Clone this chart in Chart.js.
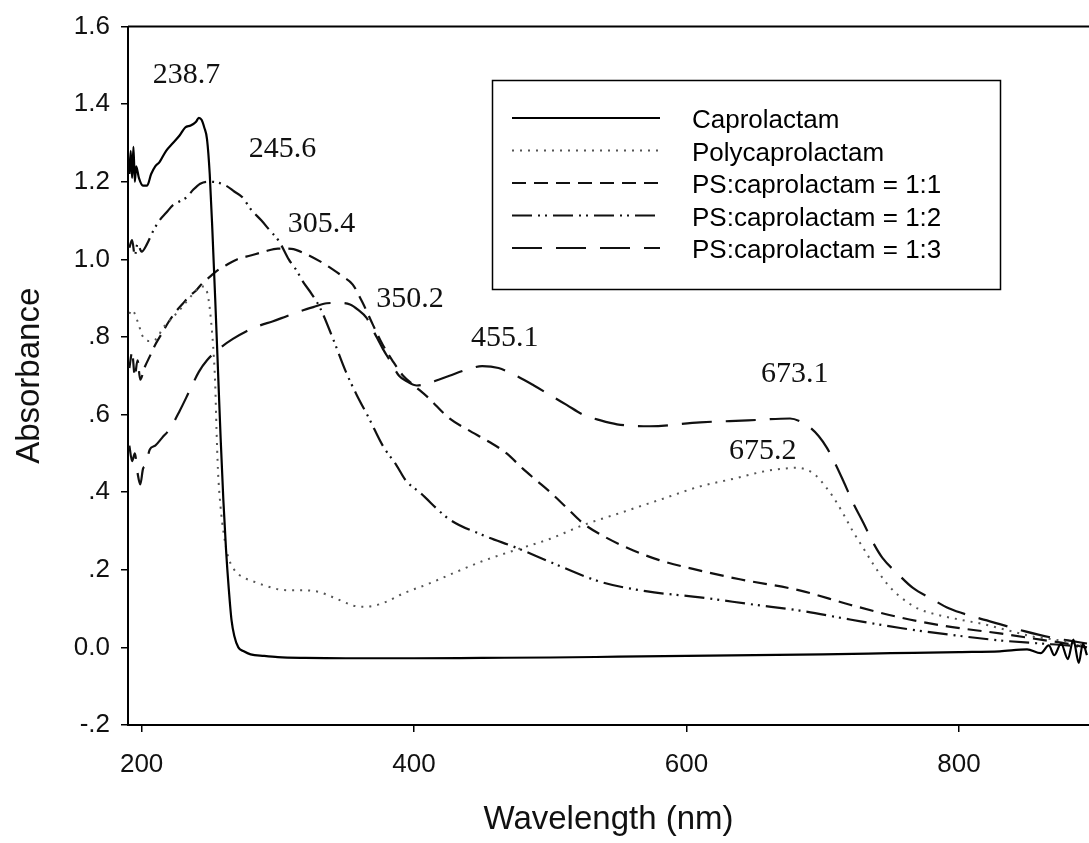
<!DOCTYPE html>
<html>
<head>
<meta charset="utf-8">
<script src="https://cdn.jsdelivr.net/npm/chart.js@4.4.1/dist/chart.umd.min.js"></script>
<style>
  html, body { margin: 0; padding: 0; background: #fff; }
</style>
</head>
<body>
<canvas id="myChart" width="1089" height="843"></canvas>
<script>
// Wavelength (nm) / absorbance
const capWl = [191, 192, 193, 194, 195, 196, 198, 201, 204, 207, 210, 213, 218, 223, 228, 232, 236, 240, 242, 244, 246, 248, 250, 252, 254, 256, 258, 260, 262, 264, 266, 268, 271, 275, 280, 290, 300, 320, 350, 400, 450, 500, 550, 600, 650, 700, 750, 800, 830, 850, 860, 866, 870, 875, 880, 884, 888, 891, 894];
const capAbs = [1.22, 1.28, 1.21, 1.29, 1.20, 1.24, 1.21, 1.19, 1.19, 1.22, 1.24, 1.25, 1.28, 1.30, 1.32, 1.34, 1.345, 1.355, 1.365, 1.36, 1.34, 1.31, 1.22, 1.07, 0.90, 0.72, 0.54, 0.38, 0.25, 0.15, 0.07, 0.03, 0.0, -0.01, -0.018, -0.022, -0.025, -0.027, -0.028, -0.028, -0.027, -0.026, -0.024, -0.022, -0.02, -0.018, -0.015, -0.012, -0.01, -0.005, -0.015, 0.005, -0.02, 0.01, -0.03, 0.02, -0.04, 0.01, -0.02];

const polyWl = [191, 193, 195, 198, 201, 205, 208, 212, 215, 220, 228, 235, 240, 243, 246, 249, 251, 253, 254, 255, 256, 258, 260, 263, 268, 275, 282, 290, 300, 310, 320, 330, 340, 348, 355, 362, 370, 380, 392, 410, 428, 450, 478, 500, 524, 550, 580, 610, 635, 659, 675, 681, 690, 696, 702, 708, 715, 722, 730, 737, 747, 757, 770, 781, 800, 818, 835, 854, 870, 885, 894];
const polyAbs = [0.86, 0.87, 0.86, 0.83, 0.80, 0.79, 0.79, 0.80, 0.82, 0.84, 0.87, 0.90, 0.92, 0.93, 0.93, 0.90, 0.84, 0.75, 0.68, 0.56, 0.46, 0.36, 0.30, 0.24, 0.20, 0.18, 0.17, 0.16, 0.15, 0.147, 0.147, 0.143, 0.13, 0.118, 0.108, 0.105, 0.107, 0.118, 0.139, 0.163, 0.19, 0.222, 0.255, 0.28, 0.315, 0.345, 0.38, 0.415, 0.435, 0.455, 0.462, 0.463, 0.455, 0.44, 0.415, 0.386, 0.345, 0.30, 0.255, 0.215, 0.165, 0.13, 0.10, 0.087, 0.072, 0.06, 0.045, 0.028, 0.02, 0.01, 0.0];

const r11Wl = [191, 193, 195, 197, 199, 202, 206, 210, 215, 220, 225, 230, 235, 240, 245, 250, 255, 262, 270, 280, 290, 300, 310, 320, 331, 340, 348, 355, 362, 370, 377, 384, 392, 400, 410, 426, 440, 455, 468, 480, 490, 500, 512, 524, 540, 561, 580, 610, 640, 683, 720, 757, 790, 830, 860, 879, 894];
const r11Abs = [0.72, 0.76, 0.70, 0.74, 0.69, 0.72, 0.75, 0.78, 0.81, 0.84, 0.865, 0.885, 0.905, 0.92, 0.94, 0.955, 0.97, 0.985, 1.0, 1.01, 1.02, 1.028, 1.027, 1.015, 0.995, 0.975, 0.955, 0.935, 0.89, 0.83, 0.78, 0.74, 0.70, 0.675, 0.645, 0.59, 0.56, 0.53, 0.50, 0.46, 0.43, 0.40, 0.36, 0.32, 0.285, 0.25, 0.225, 0.198, 0.175, 0.147, 0.11, 0.077, 0.055, 0.036, 0.02, 0.01, 0.0];

const r12Wl = [191, 193, 195, 197, 200, 204, 208, 213, 218, 223, 228, 233, 238, 243, 248, 252, 256, 262, 268, 274, 280, 288, 294, 301, 308, 314, 318, 325, 331, 340, 350, 358, 367, 377, 387, 394, 404, 426, 450, 475, 500, 536, 570, 610, 650, 683, 720, 757, 795, 830, 860, 880, 894];
const r12Abs = [1.03, 1.05, 1.01, 1.04, 1.02, 1.04, 1.07, 1.10, 1.12, 1.14, 1.15, 1.16, 1.18, 1.195, 1.20, 1.20, 1.198, 1.19, 1.175, 1.16, 1.13, 1.10, 1.075, 1.046, 1.0, 0.97, 0.945, 0.91, 0.875, 0.80, 0.71, 0.65, 0.59, 0.52, 0.47, 0.43, 0.40, 0.33, 0.29, 0.257, 0.22, 0.17, 0.145, 0.129, 0.11, 0.095, 0.072, 0.05, 0.032, 0.018, 0.01, 0.005, 0.0];

const r13Wl = [191, 193, 195, 197, 199, 201, 203, 206, 210, 215, 221, 228, 235, 242, 248, 257, 267, 277, 287, 296, 306, 316, 326, 336, 345, 353, 359, 365, 371, 377, 383, 389, 395, 402, 410, 418, 426, 438, 450, 462, 475, 488, 500, 512, 524, 537, 549, 573, 610, 645, 676, 685, 691, 697, 703, 709, 715, 722, 730, 737, 744, 755, 766, 780, 793, 810, 830, 848, 867, 880, 894];
const r13Abs = [0.52, 0.48, 0.50, 0.45, 0.42, 0.46, 0.47, 0.51, 0.52, 0.54, 0.565, 0.61, 0.66, 0.71, 0.74, 0.77, 0.795, 0.815, 0.83, 0.84, 0.853, 0.866, 0.877, 0.887, 0.888, 0.884, 0.87, 0.85, 0.81, 0.77, 0.735, 0.70, 0.685, 0.675, 0.68, 0.69, 0.70, 0.715, 0.725, 0.72, 0.70, 0.675, 0.65, 0.625, 0.60, 0.585, 0.575, 0.57, 0.58, 0.585, 0.59, 0.58, 0.566, 0.545, 0.515, 0.475, 0.43, 0.375, 0.32, 0.27, 0.23, 0.19, 0.154, 0.125, 0.10, 0.08, 0.06, 0.042, 0.026, 0.018, 0.01];

const seriesNames = ['Caprolactam', 'Polycaprolactam', 'PS:caprolactam = 1:1', 'PS:caprolactam = 1:2', 'PS:caprolactam = 1:3'];

const xTicks = [200, 400, 600, 800];
const yTicks = [-0.2, 0, 0.2, 0.4, 0.6, 0.8, 1.0, 1.2, 1.4, 1.6];
const yTickLabels = ['-.2', '0.0', '.2', '.4', '.6', '.8', '1.0', '1.2', '1.4', '1.6'];

// peak labels and where they sit (nm, absorbance)
const peakLabels = ['238.7', '245.6', '305.4', '350.2', '455.1', '673.1', '675.2'];
const peakAnchorX = [233, 303.5, 332, 397, 466.6, 679.5, 656];
const peakAnchorY = [1.476, 1.283, 1.09, 0.897, 0.797, 0.704, 0.506];

const sans = '"Liberation Sans", Arial, sans-serif';

function pts(wl, ab) {
  return wl.map((w, i) => ({ x: w, y: ab[i] }));
}

const styles = [
  { dash: [], color: '#000', width: 2.2 },
  { dash: [2, 6], color: '#555', width: 2 },
  { dash: [14, 8], color: '#111', width: 2.2 },
  { dash: [20, 6, 2, 5, 2, 6], color: '#111', width: 2.2 },
  { dash: [30, 14], color: '#111', width: 2.2 }
];

const allData = [pts(capWl, capAbs), pts(polyWl, polyAbs), pts(r11Wl, r11Abs), pts(r12Wl, r12Abs), pts(r13Wl, r13Abs)];

// legend in a box inside the plot
const boxLegend = {
  id: 'boxLegend',
  afterDraw(chart) {
    const ctx = chart.ctx;
    ctx.save();
    ctx.strokeStyle = '#000';
    ctx.lineWidth = 1.5;
    ctx.strokeRect(492.5, 80.5, 508, 209);
    chart.data.datasets.forEach((ds, i) => {
      const y = 118 + i * 32.5;
      ctx.beginPath();
      ctx.setLineDash(ds.borderDash);
      ctx.lineWidth = ds.borderWidth;
      ctx.strokeStyle = ds.borderColor;
      ctx.moveTo(512, y);
      ctx.lineTo(660, y);
      ctx.stroke();
      ctx.setLineDash([]);
      ctx.fillStyle = '#000';
      ctx.font = '26px ' + sans;
      ctx.textBaseline = 'middle';
      ctx.textAlign = 'left';
      ctx.fillText(ds.label, 692, y + 3);
    });
    ctx.restore();
  }
};

// peak wavelength labels + top frame line
const peakText = {
  id: 'peakText',
  afterDatasetsDraw(chart) {
    const { ctx, chartArea, scales } = chart;
    ctx.save();
    ctx.strokeStyle = '#000';
    ctx.lineWidth = 2;
    ctx.beginPath();
    ctx.moveTo(chartArea.left, chartArea.top);
    ctx.lineTo(chartArea.right, chartArea.top);
    ctx.stroke();
    ctx.fillStyle = '#111';
    ctx.font = '30px "Liberation Serif", "Times New Roman", serif';
    ctx.textAlign = 'center';
    ctx.textBaseline = 'middle';
    peakLabels.forEach((t, i) => {
      ctx.fillText(t, scales.x.getPixelForValue(peakAnchorX[i]), scales.y.getPixelForValue(peakAnchorY[i]));
    });
    ctx.restore();
  }
};

const ctx = document.getElementById('myChart');

new Chart(ctx, {
  type: 'line',
  data: {
    datasets: allData.map((d, i) => ({
      label: seriesNames[i],
      data: d,
      borderColor: styles[i].color,
      borderWidth: styles[i].width,
      borderDash: styles[i].dash,
      pointRadius: 0,
      fill: false,
      cubicInterpolationMode: 'monotone'
    }))
  },
  options: {
    responsive: false,
    animation: false,
    devicePixelRatio: 1,
    layout: { padding: { top: 25, right: 0, bottom: 0, left: 0 } },
    plugins: {
      legend: { display: false },
      tooltip: { enabled: false }
    },
    scales: {
      x: {
        type: 'linear',
        min: 190,
        max: 895.5,
        afterBuildTicks: s => { s.ticks = xTicks.map(v => ({ value: v })); },
        afterFit: s => { s.height = 118; },
        ticks: {
          color: '#111',
          padding: 17,
          font: { family: sans, size: 26 },
          maxRotation: 0
        },
        grid: { drawOnChartArea: false, tickLength: 7, color: '#000', lineWidth: 1.5 },
        border: { color: '#000', width: 2 },
        title: {
          display: true,
          text: 'Wavelength (nm)',
          color: '#111',
          font: { family: sans, size: 33 },
          padding: { top: 0, bottom: 3 }
        }
      },
      y: {
        min: -0.2,
        max: 1.6,
        afterBuildTicks: s => { s.ticks = yTicks.map(v => ({ value: v })); },
        afterFit: s => { s.width = 128; },
        ticks: {
          color: '#111',
          padding: 11,
          font: { family: sans, size: 26 },
          callback: (v, i) => yTickLabels[i]
        },
        grid: { drawOnChartArea: false, tickLength: 7, color: '#000', lineWidth: 1.5 },
        border: { color: '#000', width: 2 },
        title: {
          display: true,
          text: 'Absorbance',
          color: '#111',
          font: { family: sans, size: 33 },
          padding: { top: 10, bottom: 0 }
        }
      }
    }
  },
  plugins: [peakText, boxLegend]
});
</script>
</body>
</html>
